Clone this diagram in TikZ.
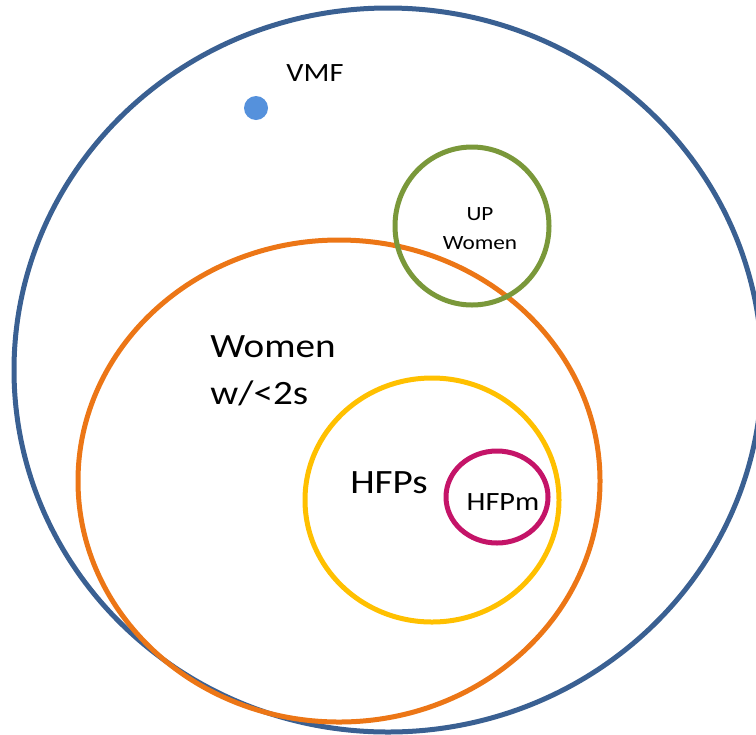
\documentclass[tikz,border=0pt]{standalone}
\usepackage{fontspec}
\setmainfont{Carlito}
\newfontfamily\widefont[FakeStretch=1.15]{Carlito}
\usepackage{xcolor}
\definecolor{vmfblue}{RGB}{58,96,146}
\definecolor{dotblue}{RGB}{85,145,220}
\definecolor{womorange}{RGB}{236,118,22}
\definecolor{upgreen}{RGB}{122,152,58}
\definecolor{hfpyellow}{RGB}{255,192,0}
\definecolor{hfpmagenta}{RGB}{196,20,104}
\newcommand{\lw}{0.1cm}
\newcommand{\vnring}[4]{\draw[ring,#1] (#2) ellipse [x radius=#3, y radius=#4];}
\tikzset{
  ring/.style={line width=\lw},
  lbl/.style={inner sep=0pt, text=black},
}

\begin{document}
\begin{tikzpicture}[x=0.02cm,y=-0.02cm]
		\useasboundingbox (0,0) rectangle (756,734);
		\clip (0,0) rectangle (756,734);
		
		\coordinate (VMF) at (388,370);
		\coordinate (W2) at (339,481);
		\coordinate (UP) at (472,226);
		\coordinate (HP) at (432,500);
		\coordinate (HM) at (497,497);
		
		\vnring{vmfblue}{VMF}{374}{362}
		\vnring{womorange}{W2}{261}{241}
		\vnring{upgreen}{UP}{77}{79}
		\vnring{hfpyellow}{HP}{127}{122}
		\vnring{hfpmagenta}{HM}{51}{46}
		
		\fill[dotblue] (256,108) circle [radius=12];
		
		\node[lbl,font=\widefont\fontsize{15}{18}\selectfont] (vmf) at (315,73) {VMF};
		\node[lbl,align=center,font=\widefont\fontsize{11.5}{16.5}\selectfont] (upw) at (480,229) {UP\\Women};
		\node[lbl,anchor=west,align=left,font=\widefont\fontsize{19.4}{26.7}\selectfont] (wom) at (210,371) {Women\\w/<2s};
		\node[lbl,font=\widefont\fontsize{19.4}{23}\selectfont] (hfps) at (389,483) {HFPs};
		\node[lbl,font=\widefont\fontsize{15}{18}\selectfont] (hfpm) at (503,502) {HFPm};
		
	\end{tikzpicture}
\end{document}
